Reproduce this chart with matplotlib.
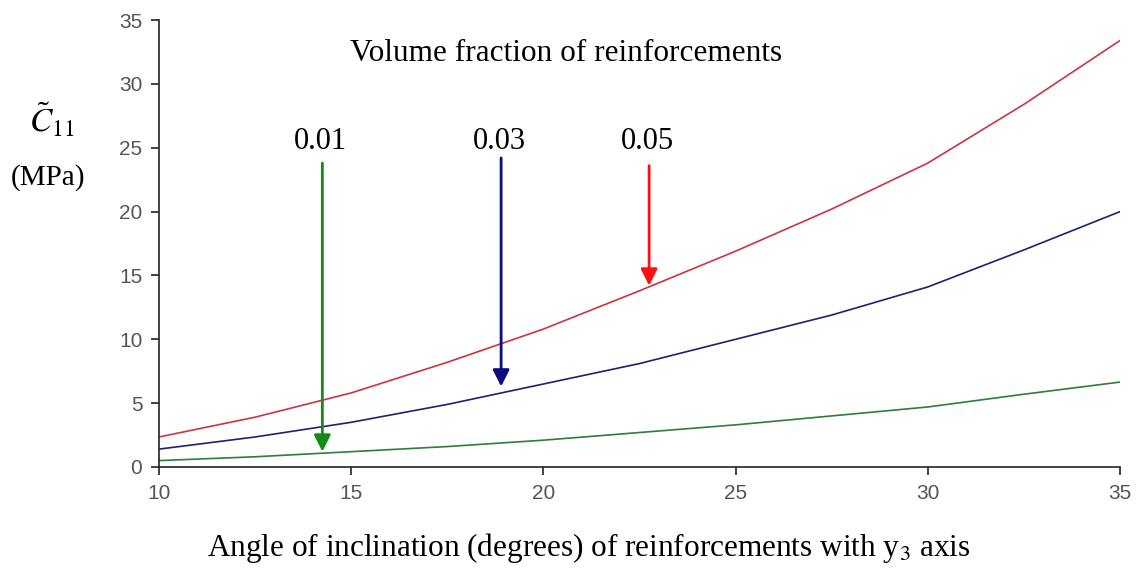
import matplotlib.pyplot as plt

angle = [10, 12.5, 15, 17.5, 20, 22.5, 25, 27.5, 30, 32.5, 35]
vf_005 = [2.35, 3.9, 5.8, 8.2, 10.8, 13.8, 16.9, 20.2, 23.8, 28.4, 33.4]
vf_003 = [1.4, 2.35, 3.5, 4.9, 6.5, 8.1, 10.0, 11.9, 14.1, 17.0, 20.0]
vf_001 = [0.5, 0.8, 1.2, 1.6, 2.1, 2.7, 3.3, 4.0, 4.7, 5.7, 6.65]

labels = ['0.01', '0.03', '0.05']
# arrow x position, start y, tip y
arrows = [(14.25, 23.8, 1.2), (18.9, 24.2, 6.3), (22.75, 23.6, 14.2)]
arrow_colors = ['#168a16', '#0c0c80', '#ff1010']

serif = 'Liberation Serif'

fig = plt.figure(figsize=(11.38, 5.73), dpi=100)
ax = fig.add_axes([0.1397, 0.185, 0.8445, 0.780])

ax.plot(angle, vf_005, color='#cc3344', lw=1.2)
ax.plot(angle, vf_003, color='#20206e', lw=1.2)
ax.plot(angle, vf_001, color='#2e7d3a', lw=1.2)

for (xa, y0, y1), c, lab in zip(arrows, arrow_colors, labels):
    ax.annotate('', xy=(xa, y1), xytext=(xa, y0),
                arrowprops=dict(arrowstyle='-|>', color=c, lw=2,
                                mutation_scale=25, shrinkA=0, shrinkB=0))
    ax.text(xa - 0.05, 25.5, lab, ha='center', va='center',
            fontsize=22, family=serif)

ax.text(20.6, 32.4, 'Volume fraction of reinforcements', ha='center',
        va='center', fontsize=22.5, family=serif)

ax.set_xlim(10, 35)
ax.set_ylim(0, 35)
ax.set_xticks([10, 15, 20, 25, 30, 35])
ax.set_yticks([0, 5, 10, 15, 20, 25, 30, 35])
for s in ['top', 'right']:
    ax.spines[s].set_visible(False)
for s in ['left', 'bottom']:
    ax.spines[s].set_color('#222222')
    ax.spines[s].set_linewidth(1.2)
ax.tick_params(direction='out', length=6, width=1.2, color='#222222',
               labelsize=15, labelcolor='#555555', pad=6)
for t in ax.get_xticklabels() + ax.get_yticklabels():
    t.set_family('Liberation Sans')

fig.text(589 / 1138, 1 - 548 / 573,
         r'Angle of inclination (degrees) of reinforcements with y$_\mathrm{3}$ axis',
         ha='center', va='center', fontsize=22.5, family=serif,
         math_fontfamily='stix')
fig.text(52 / 1138, 1 - 120 / 573, r'$\tilde{C}_{11}$', ha='center',
         va='center', fontsize=24, math_fontfamily='stix')
fig.text(48 / 1138, 1 - 178 / 573, '(MPa)', ha='center', va='center',
         fontsize=21, family=serif)

fig.savefig('out.png', dpi=100)
